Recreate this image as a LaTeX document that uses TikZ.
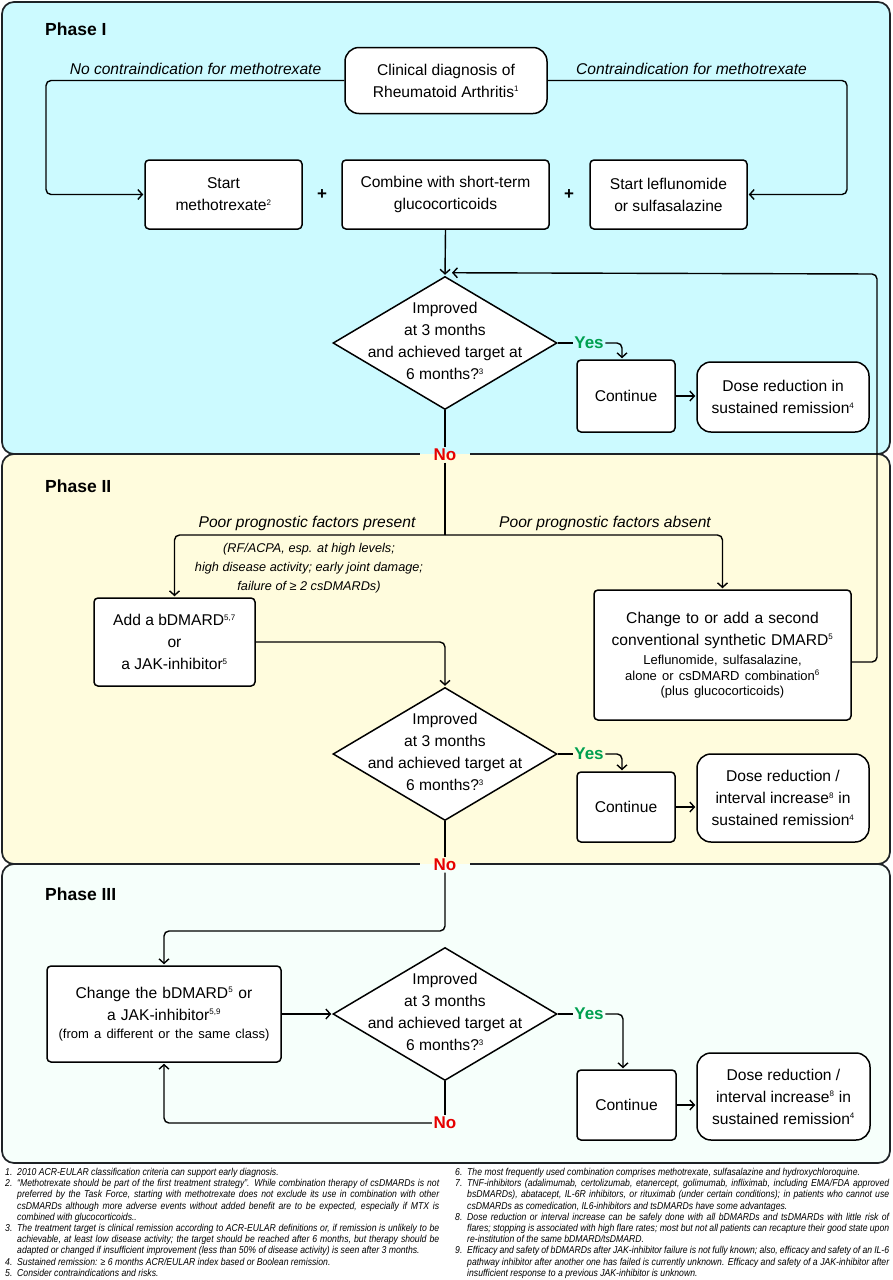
\documentclass[tikz,border=0pt]{standalone}
\usepackage{fontspec}
\setmainfont{Liberation Sans}
\newfontfamily\fnfont[FakeStretch=0.865]{Liberation Sans}
\usetikzlibrary{arrows.meta,shapes.geometric}
\definecolor{pone}{RGB}{204,250,255}
\definecolor{ptwo}{RGB}{255,252,221}
\definecolor{pthree}{RGB}{246,255,251}
\definecolor{pborder}{RGB}{30,34,38}
\definecolor{yesgreen}{RGB}{0,160,80}
\definecolor{nored}{RGB}{230,0,0}
\newcommand\supr[1]{\textsuperscript{\fontsize{8}{8}\selectfont #1}}
\newcommand\fnfirst[2]{\makebox[12pt][l]{#1}\makebox[422pt][s]{#2}}
\newcommand\fnmid[1]{\hspace*{12pt}\makebox[422pt][s]{#1}}
\newcommand\fnlast[1]{\hspace*{12pt}#1}
\newcommand\fnone[2]{\makebox[12pt][l]{#1}#2}
\begin{document}
\begin{tikzpicture}[x=1pt,y=-1pt,
 box/.style={draw, line width=1.5pt, fill=white, rounded corners=4pt, align=center, inner sep=0pt, font=\fontsize{15.6}{22}\selectfont},
 rbox/.style={box, rounded corners=14pt},
 dia/.style={draw, diamond, line width=1.5pt, fill=white, inner sep=0pt, minimum width=224pt, minimum height=133pt},
 dtext/.style={align=center, font=\fontsize{15.6}{22}\selectfont, inner sep=0pt},
 lab/.style={font=\fontsize{15.6}{18}\selectfont\itshape, inner sep=0pt},
 conn/.style={line width=1.4pt, rounded corners=5pt},
 arr/.style={conn, -{Straight Barb[length=4.5pt,width=10pt]}, shorten >=1pt},
 yes/.style={font=\fontsize{17}{17}\selectfont\bfseries, text=yesgreen, inner sep=1.5pt},
 no/.style={font=\fontsize{17}{17}\selectfont\bfseries, text=nored, inner sep=1.5pt},
 phase/.style={font=\fontsize{17.5}{20}\selectfont\bfseries, anchor=west, inner sep=0pt},
 panel/.style={draw=pborder, line width=1.7pt, rounded corners=12pt},
 fn/.style={anchor=north west, inner sep=0pt, align=left, font=\fnfont\itshape\fontsize{10}{11.2}\selectfont}
]
\useasboundingbox (0,0) rectangle (893,1280);
\fill[white] (0,0) rectangle (893,1280);
% panels
\path[panel, fill=pone] (2,2) rectangle (890,454);
\path[panel, fill=ptwo] (2,454) rectangle (890,864);
\path[panel, fill=pthree] (2,864) rectangle (890,1163);
\fill[pone] (420,444) rectangle (470,454);
\fill[ptwo] (420,454) rectangle (470,466);
\fill[ptwo] (420,854) rectangle (470,864);
\fill[pthree] (420,864) rectangle (470,876);

\node[phase] (ph1) at (45,29) {Phase I};
\node[phase] (ph2) at (45,486) {Phase II};
\node[phase] (ph3) at (45,894) {Phase III};

% Phase I
\node[rbox, minimum width=202pt, minimum height=66pt] (diag) at (446,80.5) {Clinical diagnosis of\\Rheumatoid Arthritis\supr{1}};
\node[box, minimum width=157pt, minimum height=69pt] (smtx) at (223.5,194.5) {Start\\methotrexate\supr{2}};
\node[box, minimum width=207pt, minimum height=69pt] (comb) at (445.5,194.5) {Combine with short-term\\glucocorticoids};
\node[box, minimum width=157pt, minimum height=69pt] (lef) at (668.5,194.5) {Start leflunomide\\or sulfasalazine};
\node[font=\fontsize{17}{17}\selectfont\bfseries] (plus1) at (322,195) {+};
\node[font=\fontsize{17}{17}\selectfont\bfseries] (plus2) at (569,195) {+};
\node[lab] (lnoci) at (195.5,69) {No contraindication for methotrexate};
\node[lab] (lci) at (691.5,69) {Contraindication for methotrexate};
\node[dia] (d1) at (445,343) {};
\node[dtext] (d1t) at (445,341) {Improved\\at 3 months\\and achieved target at\\6 months?\supr{3}};
\node[yes] (yes1) at (589,343) {Yes};
\node[box, minimum width=98pt, minimum height=72pt] (cont1) at (626,396) {Continue};
\node[rbox, minimum width=172pt, minimum height=70pt] (dose1) at (783,397) {Dose reduction in\\sustained remission\supr{4}};
\node[no] (no1) at (445,455) {No};

% Phase II
\node[lab] (lpres) at (307,523) {Poor prognostic factors present};
\node[lab] (labs) at (605,523) {Poor prognostic factors absent};
\node[align=center, inner sep=0pt, font=\fontsize{12.7}{18.8}\selectfont\itshape] (lparen) at (309,568) {(RF/ACPA, esp. at high levels;\\high disease activity; early joint damage;\\failure of ≥ 2 csDMARDs)};
\node[box, minimum width=161pt, minimum height=88pt] (add) at (174.5,642) {Add a bDMARD\supr{5,7}\\or\\a JAK-inhibitor\supr{5}};
\node[box, minimum width=257pt, minimum height=130pt, text width=250pt] (cs) at (722.5,655) {{\fontsize{15.6}{22}\selectfont Change to or add a second\\conventional synthetic DMARD\supr{5}\par}\vspace{4pt}{\fontsize{13}{15.5}\selectfont Leflunomide, sulfasalazine,\\alone or csDMARD combination\supr{6}\\(plus glucocorticoids)\par}};
\node[dia] (d2) at (445,754) {};
\node[dtext] (d2t) at (445,752) {Improved\\at 3 months\\and achieved target at\\6 months?\supr{3}};
\node[yes] (yes2) at (589,754) {Yes};
\node[box, minimum width=98pt, minimum height=70pt] (cont2) at (626,807) {Continue};
\node[rbox, minimum width=172pt, minimum height=88pt] (dose2) at (783,798) {Dose reduction /\\interval increase\supr{8} in\\sustained remission\supr{4}};
\node[no] (no2) at (445,865) {No};

% Phase III
\node[box, minimum width=234pt, minimum height=96pt, text width=230pt] (chg) at (164,1014) {{\fontsize{15.6}{22}\selectfont Change the bDMARD\supr{5} or\\a JAK-inhibitor\supr{5,9}\par}\vspace{3pt}{\fontsize{13}{15.5}\selectfont (from a different or the same class)\par}};
\node[dia] (d3) at (445,1014) {};
\node[dtext] (d3t) at (445,1012) {Improved\\at 3 months\\and achieved target at\\6 months?\supr{3}};
\node[yes] (yes3) at (589,1014) {Yes};
\node[box, minimum width=99pt, minimum height=70pt] (cont3) at (626.5,1105) {Continue};
\node[rbox, minimum width=173pt, minimum height=87pt] (dose3) at (783.5,1096.5) {Dose reduction /\\interval increase\supr{8} in\\sustained remission\supr{4}};
\node[no, fill=pthree] (no3) at (445,1123) {No};

% coordinates
\coordinate (cl) at (46,80.5);
\coordinate (cr) at (847,80.5);
\coordinate (fb) at (877,274);
\coordinate (sp2) at (445,535);
\coordinate (sp3) at (445,931);

% connectors Phase I
\draw[arr] (diag.west) -- (cl) |- (smtx.west);
\draw[arr] (diag.east) -- (cr) |- (lef.east);
\draw[arr] (comb.south) -- (d1.north);
\draw[conn] (d1.east) -- (yes1.west);
\draw[arr] (yes1.east) -| ([xshift=-4pt]cont1.north);
\draw[arr] (cont1.east) -- (cont1.east -| dose1.west);
\draw[conn] (d1.south) -- (no1.north);

% Phase II
\draw[conn] (no1.south) -- (sp2);
\draw[arr] (sp2) -| (add.north);
\draw[arr] (sp2) -| (cs.north);
\draw[arr] ([yshift=-7pt]cs.east) -| (fb) -- ([xshift=6pt,yshift=3pt]d1.north);
\draw[arr] (add.east) -| (d2.north);
\draw[conn] (d2.east) -- (yes2.west);
\draw[arr] (yes2.east) -| ([xshift=-4pt]cont2.north);
\draw[arr] (cont2.east) -- (cont2.east -| dose2.west);
\draw[conn] (d2.south) -- (no2.north);

% Phase III
\draw[arr] (no2.south) -- (sp3) -| (chg.north);
\draw[arr] (chg.east) -- (d3.west);
\draw[conn] (d3.east) -- (yes3.west);
\draw[arr] (yes3.east) -| ([xshift=-3.5pt]cont3.north);
\draw[arr] (cont3.east) -- (cont3.east -| dose3.west);
\draw[conn] (d3.south) -- (no3.north);
\draw[arr] (no3.west) -| (chg.south);

% footnotes
\node[fn] (fnl) at (5,1168) {%
\fnone{1.}{2010 ACR-EULAR classification criteria can support early diagnosis.}\\
\fnfirst{2.}{“Methotrexate should be part of the first treatment strategy”. While combination therapy of csDMARDs is not}\\
\fnmid{preferred by the Task Force, starting with methotrexate does not exclude its use in combination with other}\\
\fnmid{csDMARDs although more adverse events without added benefit are to be expected, especially if MTX is}\\
\fnlast{combined with glucocorticoids..}\\
\fnfirst{3.}{The treatment target is clinical remission according to ACR-EULAR definitions or, if remission is unlikely to be}\\
\fnmid{achievable, at least low disease activity; the target should be reached after 6 months, but therapy should be}\\
\fnlast{adapted or changed if insufficient improvement (less than 50\% of disease activity) is seen after 3 months.}\\
\fnone{4.}{Sustained remission: ≥ 6 months ACR/EULAR index based or Boolean remission.}\\
\fnone{5.}{Consider contraindications and risks.}};
\node[fn] (fnr) at (455,1168) {%
\fnone{6.}{The most frequently used combination comprises methotrexate, sulfasalazine and hydroxychloroquine.}\\
\fnfirst{7.}{TNF-inhibitors (adalimumab, certolizumab, etanercept, golimumab, infliximab, including EMA/FDA approved}\\
\fnmid{bsDMARDs), abatacept, IL-6R inhibitors, or rituximab (under certain conditions); in patients who cannot use}\\
\fnlast{csDMARDs as comedication, IL6-inhibitors and tsDMARDs have some advantages.}\\
\fnfirst{8.}{Dose reduction or interval increase can be safely done with all bDMARDs and tsDMARDs with little risk of}\\
\fnmid{flares; stopping is associated with high flare rates; most but not all patients can recapture their good state upon}\\
\fnlast{re-institution of the same bDMARD/tsDMARD.}\\
\fnfirst{9.}{Efficacy and safety of bDMARDs after JAK-inhibitor failure is not fully known; also, efficacy and safety of an IL-6}\\
\fnmid{pathway inhibitor after another one has failed is currently unknown. Efficacy and safety of a JAK-inhibitor after}\\
\fnlast{insufficient response to a previous JAK-inhibitor is unknown.}};
\end{tikzpicture}
\end{document}
